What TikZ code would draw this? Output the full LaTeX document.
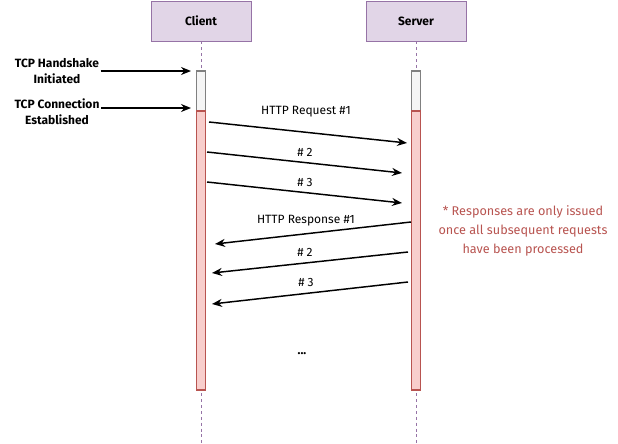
\documentclass[tikz,border=0pt]{standalone}
\usepackage{fontspec}
\setmainfont{Fira Sans}
\usetikzlibrary{arrows.meta, positioning}
\definecolor{lanefill}{HTML}{E1D5E7}
\definecolor{lanedraw}{HTML}{9673A6}
\definecolor{busyfill}{HTML}{F8CECC}
\definecolor{busydraw}{HTML}{B85450}
\definecolor{idlefill}{HTML}{F5F5F5}
\definecolor{idledraw}{HTML}{808080}

\begin{document}
\begin{tikzpicture}[x=0.75pt,y=-0.75pt,
          actor/.style={draw=lanedraw,fill=lanefill,minimum width=75pt,line width=0.6pt,
                        minimum height=30pt,inner sep=0pt,font=\bfseries\fontsize{9}{11}\selectfont},
          life/.style={draw=lanedraw,line width=0.6pt,dash pattern=on 2.2pt off 2.2pt},
          idlebar/.style={draw=idledraw,fill=idlefill,line width=1.4pt,minimum width=6.75pt,inner sep=0pt},
          busybar/.style={draw=busydraw,fill=busyfill,line width=1.4pt,minimum width=6.75pt,inner sep=0pt},
          msg/.style={-{Stealth[length=7.5pt,width=6pt]},line width=1.1pt},
          lbl/.style={inner sep=1pt,font=\fontsize{9}{11}\selectfont},
          side/.style={align=center,inner sep=1pt,font=\bfseries\fontsize{9}{12}\selectfont}]
        \useasboundingbox (0,0) rectangle (618,443);
        % lanes
        \node[actor](client) at (201,21){Client};
        \node[actor](server) at (416,21){Server};
        \coordinate (clientend) at (201,443);
        \coordinate (serverend) at (416,443);
        \draw[life](client.south)--(clientend);
        \draw[life](server.south)--(serverend);
        % activation bars
        \node[idlebar,minimum height=30pt](cwait) at (201,91){};
        \node[busybar,minimum height=209.25pt](cbusy) at (201,250.5){};
        \node[idlebar,minimum height=30pt](swait) at (416,91){};
        \node[busybar,minimum height=209.25pt](sbusy) at (416,250.5){};
        % handshake
        \node[side](hs) at (57,71){TCP Handshake\\Initiated};
        \node[side](est) at (57,111.5){TCP Connection\\Established};
        \coordinate (hsend) at (191,71);
        \coordinate (estend) at (191,108);
        \draw[msg](hs.east)--(hsend);
        \draw[msg](est.east |- estend)--(estend);
        % requests
        \coordinate (rqa1) at (209,122); \coordinate (rqb1) at (407,143);
        \coordinate (rqa2) at (207,152); \coordinate (rqb2) at (402,173);
        \coordinate (rqa3) at (207,182); \coordinate (rqb3) at (402,203);
        \draw[msg](rqa1)--(rqb1);
        \draw[msg](rqa2)--(rqb2);
        \draw[msg](rqa3)--(rqb3);
        \node[lbl](rql1) at (306,112){HTTP Request \#1};
        \node[lbl](rql2) at (305,152){\# 2};
        \node[lbl](rql3) at (305,182){\# 3};
        % responses
        \coordinate (rsa1) at (411,222); \coordinate (rsb1) at (215,244);
        \coordinate (rsa2) at (408,252); \coordinate (rsb2) at (212,273);
        \coordinate (rsa3) at (408,282); \coordinate (rsb3) at (212,304);
        \draw[msg](rsa1)--(rsb1);
        \draw[msg](rsa2)--(rsb2);
        \draw[msg](rsa3)--(rsb3);
        \node[lbl](rsl1) at (306,221){HTTP Response \#1};
        \node[lbl](rsl2) at (305,252){\# 2};
        \node[lbl](rsl3) at (306,282){\# 3};
        \node[lbl,font=\bfseries\fontsize{9}{11}\selectfont](more) at (302,354){...};
        % note
        \node[align=center,text=busydraw,font=\fontsize{9.5}{14.25}\selectfont](note) at (523,231)
          {* Responses are only issued\\once all subsequent requests\\have been processed};
      \end{tikzpicture}
\end{document}
